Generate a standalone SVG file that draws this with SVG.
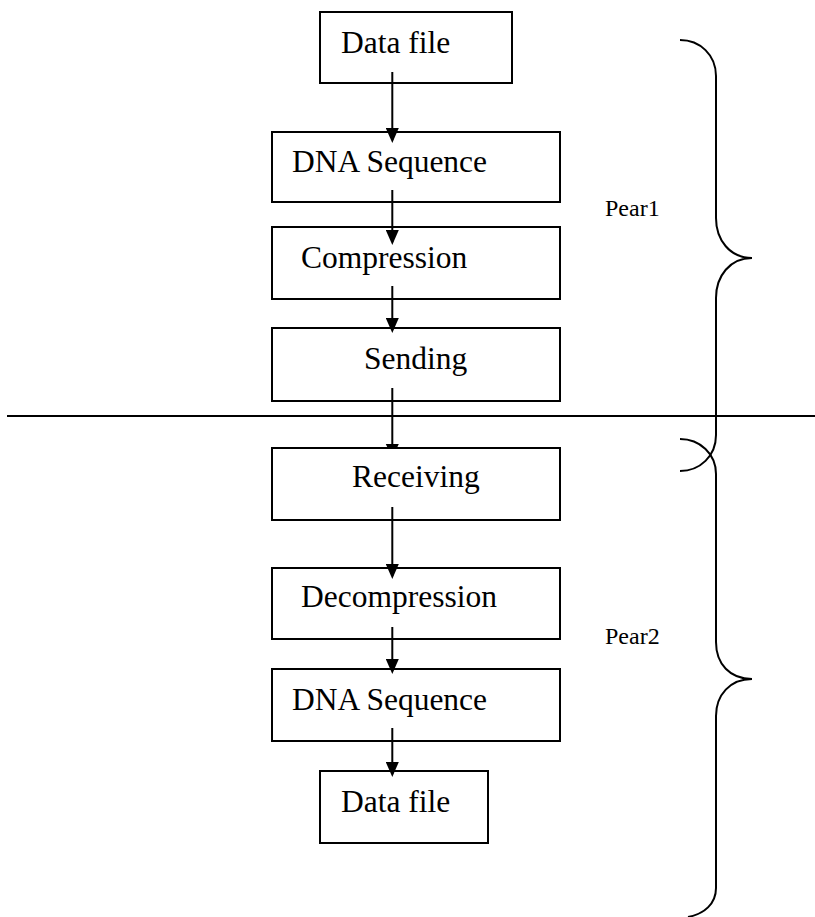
<svg xmlns="http://www.w3.org/2000/svg" width="815" height="917" viewBox="0 0 815 917">
<style>
.box{fill:#fff;stroke:#000;stroke-width:2}
.lbl{font-family:"Liberation Serif","Times New Roman",serif;font-size:31.5px;fill:#000}
.side{font-family:"Liberation Serif","Times New Roman",serif;font-size:24px;fill:#000}
.conn{stroke:#000;stroke-width:2;fill:none}
.brace{stroke:#000;stroke-width:2;fill:none}
</style>
<defs>
<marker id="ah" viewBox="0 0 15 13" refX="12" refY="6.5" markerWidth="15" markerHeight="13" markerUnits="userSpaceOnUse" orient="auto">
<path d="M0,0 L15,6.5 L0,13 z" fill="#000"/>
</marker>
</defs>
<rect width="815" height="917" fill="#fff"/>
<g id="nodes">
<g id="n1"><rect class="box" x="320" y="12" width="192" height="71"/><text class="lbl" x="341" y="53">Data file</text></g>
<g id="n2"><rect class="box" x="272" y="132" width="288" height="70"/><text class="lbl" x="292" y="172">DNA Sequence</text></g>
<g id="n3"><rect class="box" x="272" y="227" width="288" height="72"/><text class="lbl" x="301" y="268">Compression</text></g>
<g id="n4"><rect class="box" x="272" y="328" width="288" height="73"/><text class="lbl" x="364" y="369">Sending</text></g>
<g id="n5"><rect class="box" x="272" y="448" width="288" height="72"/><text class="lbl" x="352" y="487">Receiving</text></g>
<g id="n6"><rect class="box" x="272" y="568" width="288" height="71"/><text class="lbl" x="301" y="607">Decompression</text></g>
<g id="n7"><rect class="box" x="272" y="669" width="288" height="72"/><text class="lbl" x="292" y="710">DNA Sequence</text></g>
<g id="n8"><rect class="box" x="320" y="771" width="168" height="72"/><text class="lbl" x="341" y="812">Data file</text></g>
</g>
<g id="connectors">
<line class="conn" x1="392.3" y1="72" x2="392.3" y2="140" marker-end="url(#ah)"/>
<line class="conn" x1="392.3" y1="190" x2="392.3" y2="242" marker-end="url(#ah)"/>
<line class="conn" x1="392.3" y1="286" x2="392.3" y2="330" marker-end="url(#ah)"/>
<line class="conn" x1="392.3" y1="388" x2="392.3" y2="447"/>
<polygon points="385.8,444 398.8,444 396.9,448 387.7,448" fill="#000"/>
<line class="conn" x1="392.3" y1="507" x2="392.3" y2="576" marker-end="url(#ah)"/>
<line class="conn" x1="392.3" y1="627" x2="392.3" y2="671" marker-end="url(#ah)"/>
<line class="conn" x1="392.3" y1="728" x2="392.3" y2="774" marker-end="url(#ah)"/>
</g>
<g id="divider">
<line x1="7" y1="416" x2="815" y2="416" stroke="#000" stroke-width="2"/>
</g>
<g id="brace1">
<path class="brace" d="M680,40 C700,40 716,55 716,76 L716,218 C716,240 730,258 752,258 C730,258 716,276 716,298 L716,435 C716,456 700,471 680,471"/>
<text class="side" x="605" y="216">Pear1</text>
</g>
<g id="brace2">
<path class="brace" d="M680,439 C700,439 716,454 716,474 L716,642 C716,664 730,679 752,679 C730,679 716,695 716,716 L716,888 C716,904 704,914 688,917"/>
<text class="side" x="605" y="644">Pear2</text>
</g>
</svg>
